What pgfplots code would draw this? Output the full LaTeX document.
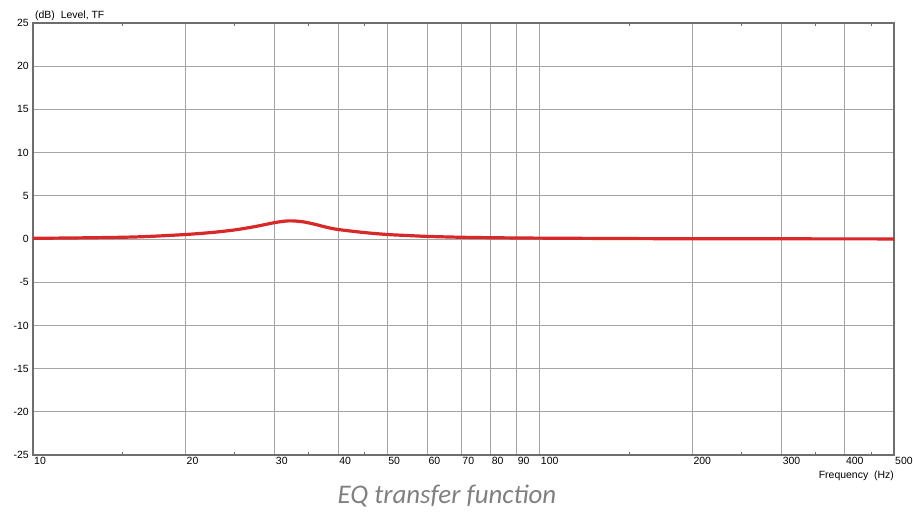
\documentclass[border=0pt]{standalone}
\usepackage{fontspec}
\setmainfont{Liberation Sans}
\newfontfamily\capfont{Carlito}
\usepackage{pgfplots}
\pgfplotsset{compat=1.18}
\definecolor{eqred}{RGB}{216,40,40}
\definecolor{gridgray}{RGB}{165,165,165}
\definecolor{axgray}{RGB}{110,110,110}
\definecolor{capgray}{RGB}{128,128,128}
\begin{document}
\begin{tikzpicture}[x=1bp,y=1bp]
\useasboundingbox (-33bp,-58bp) rectangle (880bp,455bp);
\begin{axis}[
  at={(0,0)}, anchor=south west,
  scale only axis,
  width=861bp, height=432bp,
  xmode=log,
  xmin=10, xmax=500,
  ymin=-25, ymax=25,
  xtick={10,20,30,40,50,60,70,80,90,100,200,300,400,500},
  xticklabels={10,20,30,40,50,60,70,80,90,100,200,300,400,500},
  minor xtick={15,25,35,45,150,250,350,450},
  ytick={-25,-20,-15,-10,-5,0,5,10,15,20,25},
  yticklabels={-25,-20,-15,-10,-5,0,5,10,15,20,25},
  major tick length=0pt,
  minor tick length=3bp,
  minor tick style={axgray, line width=0.6bp},
  xmajorgrids, ymajorgrids,
  major grid style={gridgray, line width=0.9bp},
  axis line style={axgray, line width=1.1bp},
  tick label style={font=\fontsize{10.5}{12}\selectfont},
  xticklabel style={anchor=north west, inner sep=1bp, yshift=-1bp},
  yticklabel style={anchor=east, inner sep=1bp, xshift=-3bp},
  /pgf/number format/assume math mode=true,
  clip=true,
]
\addplot[eqred, line width=3.2bp, smooth] coordinates {
  (10,0.08) (12,0.12) (15,0.2) (17,0.3) (20,0.52) (22.5,0.75) (25,1.05)
  (27.5,1.45) (30,1.9) (32,2.1) (34,2.0) (36,1.7) (38,1.35) (40,1.1)
  (45,0.75) (50,0.52) (55,0.4) (60,0.3) (70,0.2) (80,0.15) (90,0.12)
  (100,0.1) (150,0.05) (200,0.03) (300,0.02) (500,0.01)
};
\end{axis}
\node[anchor=south west, inner sep=0pt, font=\fontsize{10.5}{12}\selectfont] at (2bp,434bp) {(dB)\ \ Level, TF};
\node[anchor=north east, inner sep=0pt, font=\fontsize{10.5}{12}\selectfont] at (861bp,-16bp) {Frequency\ \ (Hz)};
\node[anchor=center, inner sep=0pt, text=capgray, font=\capfont\itshape\fontsize{27}{31}\selectfont] at (414bp,-41bp) {EQ transfer function};
\end{tikzpicture}
\end{document}
